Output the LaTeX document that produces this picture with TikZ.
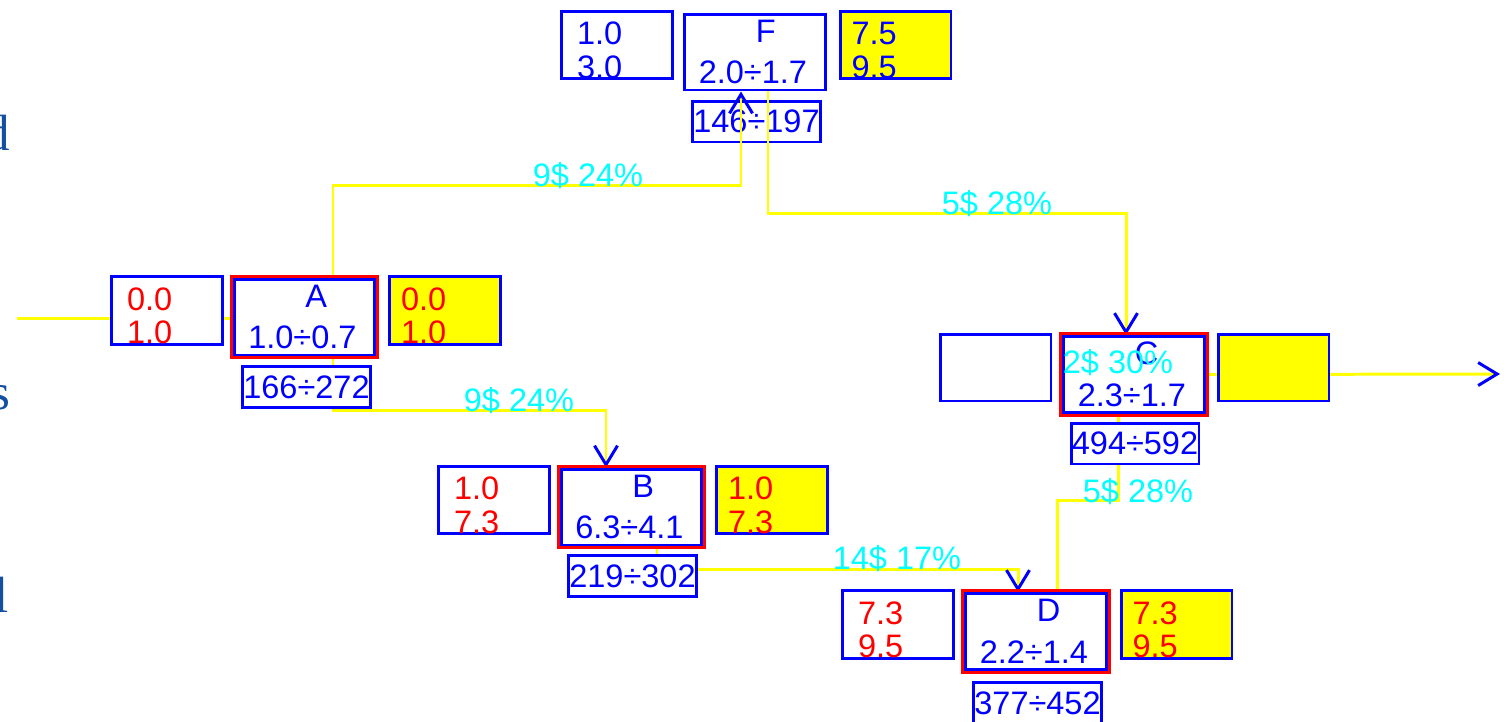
\documentclass[tikz,border=0pt]{standalone}
\usepackage{fontspec}
\setmainfont{Liberation Sans}
\newfontfamily\edgefont{Liberation Serif}
\usepackage{tikz}
\usetikzlibrary{arrows.meta,calc}
\definecolor{cBlue}{RGB}{0,0,255}
\definecolor{cRed}{RGB}{255,0,0}
\definecolor{cYel}{RGB}{255,255,0}
\definecolor{cCyan}{RGB}{0,255,255}
\definecolor{cEdge}{RGB}{20,80,160}
\pgfdeclarelayer{toprow}
\pgfdeclarelayer{links}
\pgfsetlayers{toprow,links,main}
\tikzset{
	sidebox/.style={draw=cBlue, line width=1.7pt, fill=white,
		minimum width=2.22cm, minimum height=1.34cm, inner xsep=0.31cm,
		inner ysep=0pt, text width=1.6cm, align=left,
		font=\fontsize{18.5}{19.3}\selectfont,
		execute at begin node={\rule{0pt}{19pt}}},
	yelbox/.style={sidebox, fill=cYel, inner xsep=0.23cm, text width=1.76cm},
	mainbox/.style={draw=cBlue, line width=1.7pt, fill=white, text=cBlue,
		minimum width=2.81cm, minimum height=1.52cm, inner xsep=0.28cm,
		inner ysep=0pt, text width=2.25cm, align=left,
		font=\fontsize{18.5}{23.8}\selectfont},
	hot/.style={preaction={draw=cRed, line width=5.1pt}},
	rangebox/.style={draw=cBlue, line width=1.7pt, fill=white, text=cBlue,
		minimum width=2.56cm, minimum height=0.82cm, inner sep=0pt,
		font=\fontsize{18.5}{19}\selectfont},
	ylink/.style={draw=cYel, line width=1.7pt},
	yarr/.style={ylink, -{Straight Barb[color=cBlue, length=0.38cm, width=0.46cm]}},
	pct/.style={text=cCyan, inner sep=0pt, anchor=base,
		font=\fontsize{18.5}{19}\selectfont},
	edgetxt/.style={text=cEdge, inner sep=0pt, anchor=base east,
		font=\edgefont\fontsize{29}{30}\selectfont},
}
\begin{document}
\begin{tikzpicture}[x=0.02cm, y=-0.02cm]
	\useasboundingbox (0,0) rectangle (1509,721);

	% cut-off words at the left edge
	\node[edgetxt] at (10,150) (edgeD) {d};
	\node[edgetxt] at (11,409) (edgeS) {s};
	\node[edgetxt] at (9,612)  (edgeL) {l};

	% F row (top), lies under the links
	\begin{pgfonlayer}{toprow}
	\node[sidebox,text=cBlue] at (617,45)    (Fl) {1.0\\3.0};
	\node[mainbox]            at (755,52)    (F)  {\hspace*{1.14cm}F\\2.0÷1.7};
	\node[yelbox,text=cBlue]  at (895.5,45)  (Fr) {7.5\\9.5};
	\node[rangebox]           at (756.5,121.5) (Ft) {146÷197};
	\end{pgfonlayer}

	% A row
	\node[sidebox,text=cRed] at (167,310.5) (Al) {0.0\\1.0};
	\node[mainbox,hot]       at (304.5,317) (A)  {\hspace*{1.14cm}A\\1.0÷0.7};
	\node[yelbox,text=cRed]  at (445,310.5) (Ar) {0.0\\1.0};
	\node[rangebox]          at (306.5,387) (At) {166÷272};

	% B row
	\node[sidebox,text=cRed] at (494,500)   (Bl) {1.0\\7.3};
	\node[mainbox,hot]       at (631.5,507) (B)  {\hspace*{1.14cm}B\\6.3÷4.1};
	\node[yelbox,text=cRed]  at (772,500)   (Br) {1.0\\7.3};
	\node[rangebox]          at (632.5,576) (Bt) {219÷302};

	% C row
	\node[sidebox]     at (995.5,367.5)  (Cl) {};
	\node[mainbox,hot] at (1134,374.5)   (C)  {\hspace*{1.14cm}C\\2.3÷1.7};
	\node[yelbox]      at (1273.5,367.5) (Cr) {};
	\node[rangebox]    at (1135,443.5)   (Ct) {494÷592};

	% D row
	\node[sidebox,text=cRed] at (898,624.5)    (Dl) {7.3\\9.5};
	\node[mainbox,hot]       at (1036,631.5)   (D)  {\hspace*{1.14cm}D\\2.2÷1.4};
	\node[yelbox,text=cRed]  at (1176.5,624.5) (Dr) {7.3\\9.5};
	\node[rangebox]          at (1037.5,703)   (Dt) {377÷452};

	% bends of the links
	\coordinate (inA) at (17,318);
	\coordinate (kAF) at (333,185);
	\coordinate (kFC) at (768,213);
	\coordinate (kAB) at (333,410);
	\coordinate (kBD) at (657,569);
	\coordinate (kCD) at (1118,500);
	\coordinate (outC) at (1500,374);

	% links
	\begin{pgfonlayer}{links}
	\draw[ylink] (inA) -- (inA -| A.west);
	\draw[yarr]  (kAF |- A.north) -- (kAF) -| ($(F.south)+(-14,0)$);
	\draw[yarr]  ($(F.south)+(13,0)$) -- (kFC) -| ($(C.north)+(-8,0)$);
	\draw[yarr]  (kAB |- A.south) -- (kAB) -| ($(B.north)+(-25.5,0)$);
	\draw[yarr]  (kBD |- B.south) -- (kBD) -| ($(D.north)+(-18,0)$);
	\draw[ylink] (kCD |- C.south) -- (kCD) -| ($(D.north)+(21,0)$);
	\draw[yarr]  (C.east) -- (outC);
	\end{pgfonlayer}

	% link labels
	\node[pct] at (588,186)  (pAF) {9\$ 24\%};
	\node[pct] at (997,214)  (pFC) {5\$ 28\%};
	\node[pct] at (519,411)  (pAB) {9\$ 24\%};
	\node[pct] at (897,569)  (pBD) {14\$ 17\%};
	\node[pct] at (1138,502) (pCD) {5\$ 28\%};
	\node[pct] at (1118,373) (pC)  {2\$ 30\%};
\end{tikzpicture}
\end{document}
